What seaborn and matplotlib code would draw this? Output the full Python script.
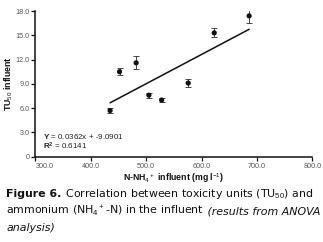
import matplotlib
matplotlib.use('Agg')
import matplotlib.pyplot as plt
import seaborn as sns
import numpy as np
import pandas as pd

# data
nh4 = [435, 452, 482, 505, 528, 576, 623, 686]
tu50 = [5.7, 10.5, 11.6, 7.6, 7.0, 9.1, 15.3, 17.4]
tu50_err = [0.35, 0.4, 0.8, 0.3, 0.25, 0.45, 0.55, 0.9]
slope = 0.0362
intercept = -9.0901
r2 = 0.6141
xticks = [300, 400, 500, 600, 700, 800]
yticks = [0, 3, 6, 9, 12, 15, 18]

sns.set_style('ticks')
plt.rcParams['font.family'] = ['Liberation Sans', 'DejaVu Sans']
plt.rcParams['mathtext.fontset'] = 'custom'
plt.rcParams['mathtext.rm'] = 'Liberation Sans'
plt.rcParams['mathtext.bf'] = 'Liberation Sans:bold'

df = pd.DataFrame({'nh4': nh4, 'tu50': tu50, 'err': tu50_err})
xfit = np.array([min(nh4), max(nh4)])
fit = pd.DataFrame({'x': xfit, 'y': slope * xfit + intercept})

fig = plt.figure(figsize=(3.23, 2.42), dpi=100)
ax = fig.add_axes([0.1093, 0.3525, 0.8576, 0.602])

ax.errorbar(df['nh4'], df['tu50'], yerr=df['err'], fmt='none',
            ecolor='#444444', elinewidth=0.7, capsize=2, capthick=0.7, zorder=2)
sns.scatterplot(data=df, x='nh4', y='tu50', ax=ax, color='#111111', s=14,
                edgecolor='none', zorder=3)
sns.lineplot(data=fit, x='x', y='y', ax=ax, color='#111111', lw=1.1, zorder=2)

ax.set_xlim(300, 800)
ax.set_ylim(0, 18)
ax.set_xticks(xticks)
ax.set_xticklabels([f'{v:.1f}' for v in xticks])
ax.set_yticks(yticks)
ax.set_yticklabels(['0'] + [f'{v:.1f}' for v in yticks[1:]])
ax.get_xticklabels()[0].set_horizontalalignment('left')
ax.tick_params(axis='both', labelsize=5.2, labelcolor='#555555', length=3,
               width=0.9, pad=1.2, color='#111111')
for s in ['left', 'bottom']:
    ax.spines[s].set_linewidth(1.1)
    ax.spines[s].set_color('#111111')
sns.despine(ax=ax)

ax.set_xlabel(r'N-NH$_4$$^+$ influent (mg l$^{-1}$)', fontsize=6.3,
              fontweight='bold', labelpad=1.5, color='#111111')
ax.set_ylabel(r'TU$_{50}$ influent', fontsize=6.3, fontweight='bold',
              color='#111111')
ax.yaxis.set_label_coords(-0.075, 0.5)

ax.text(0.028, 0.137, r'$\mathbf{Y}$ = ' + f'{slope}x + {intercept}',
        transform=ax.transAxes, fontsize=5.8, va='center', color='#222222')
ax.text(0.028, 0.069, r'$\mathbf{R^2}$ = ' + f'{r2}',
        transform=ax.transAxes, fontsize=5.8, va='center', color='#222222')

# caption, pieces placed one after another
renderer = fig.canvas.get_renderer()
cap_fs = 7.9
cap_font = ['DejaVu Sans']


def line(pieces, x0, y0):
    x = x0
    for txt, kw in pieces:
        t = fig.text(x, y0, txt, fontsize=cap_fs, family=cap_font,
                     va='baseline', ha='left', color='#111111', **kw)
        bb = t.get_window_extent(renderer=renderer)
        x += bb.width / fig.bbox.width


line([('Figure 6.', {'fontweight': 'bold'}),
      (r' Correlation between toxicity units (TU$_{50}$) and', {})],
     0.02, 1 - 197 / 242)
line([(r'ammonium (NH$_4$$^+$-N) in the influent', {}),
      (' (results from ANOVA', {'style': 'italic'})],
     0.02, 1 - 214 / 242)
line([('analysis)', {'style': 'italic'})], 0.02, 1 - 231 / 242)

fig.savefig('out.png', dpi=100)
